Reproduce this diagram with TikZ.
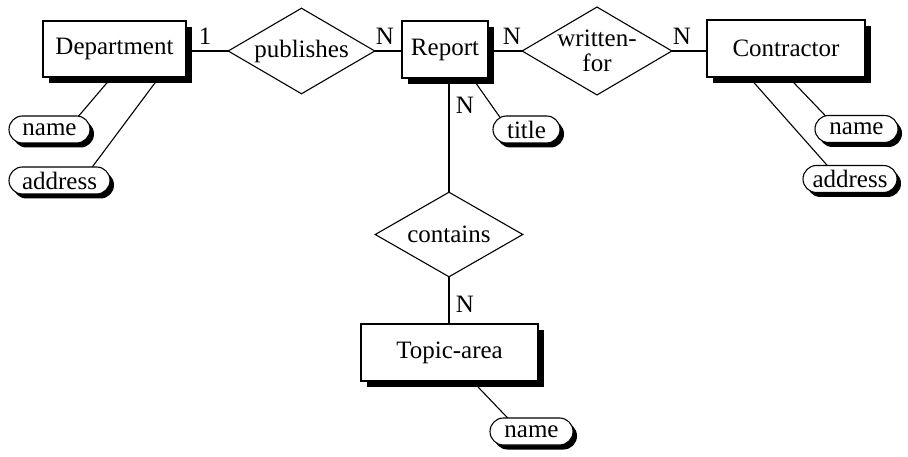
\documentclass[tikz,border=0pt]{standalone}
\usepackage{fontspec}
\setmainfont{Liberation Serif}
\usetikzlibrary{shapes.geometric,shadows,calc}
\pgfdeclarelayer{background}
\pgfsetlayers{background,main}
\begin{document}
\begin{tikzpicture}[x=1pt,y=-1pt,
  every node/.style={font=\fontsize{25}{27}\selectfont},
  entity/.style={draw=black,fill=white,line width=1.1pt,inner sep=0pt,
    drop shadow={shadow xshift=5.5pt,shadow yshift=-6pt,fill=black,opacity=1}},
  attr/.style={draw=black,fill=white,line width=1.1pt,inner sep=0pt,minimum height=27pt,
    rounded corners=13.5pt,
    drop shadow={shadow xshift=4pt,shadow yshift=-4.5pt,fill=black,opacity=1}},
  rel/.style={diamond,draw=black,fill=white,line width=1.1pt,inner sep=0pt,aspect=1.7},
  conn/.style={draw=black,line width=1.1pt},
  card/.style={inner sep=0pt}]
\useasboundingbox (0,0) rectangle (908,457);
% entities
\node[entity,minimum width=143pt,minimum height=56pt] (dept) at (114.5,49) {Department};
\node[entity,minimum width=86pt,minimum height=57pt] (report) at (445,49.5) {Report};
\node[entity,minimum width=158pt,minimum height=57pt] (contr) at (786,48.5) {Contractor};
\node[entity,minimum width=177pt,minimum height=57pt] (topic) at (449.5,352.5) {Topic-area};
% relationships
\node[rel,minimum width=147pt,minimum height=86pt] (pub) at (301.5,51) {publishes};
\node[rel,minimum width=146pt,minimum height=86pt,align=center,font=\fontsize{25}{25}\selectfont] (wf) at (597,51) {written-\\for};
\node[rel,minimum width=148pt,minimum height=85pt] (cont) at (449,234.5) {contains};
% attributes
\node[attr,minimum width=81pt] (dname) at (49.5,129.5) {name};
\node[attr,minimum width=101pt] (daddr) at (59.5,180.5) {address};
\node[attr,minimum width=67pt] (title) at (526.5,129.5) {title};
\node[attr,minimum width=83pt] (cname) at (856.5,129) {name};
\node[attr,minimum width=94pt] (caddr) at (850,179) {address};
\node[attr,minimum width=83pt] (tname) at (531.5,431.5) {name};
% cardinalities
\node[card] (c1) at (205,36) {1};
\node[card] (c2) at (385,36) {N};
\node[card] (c3) at (512,36) {N};
\node[card] (c4) at (682,36) {N};
\node[card] (c5) at (465,105) {N};
\node[card] (c6) at (465,304) {N};
% connectors
\begin{pgfonlayer}{background}
\draw[conn] (dept.center |- pub.center) -- (pub.center) -- (report.center |- pub.center);
\draw[conn] (report.center |- wf.center) -- (wf.center) -- (contr.center |- wf.center);
\draw[conn] (cont.center) -- (cont.center |- report.center);
\draw[conn] (cont.center) -- (topic.center -| cont.center);
\draw[conn] ($(dept.south west)+(69,0)$) -- ($(dname.center)+(17.7,0)$);
\draw[conn] ($(dept.south west)+(116.5,0)$) -- ($(daddr.center)+(22.7,0)$);
\draw[conn] ($(report.south west)+(71.2,0)$) -- ($(title.center)+(-17.9,0)$);
\draw[conn] ($(contr.south west)+(82.4,0)$) -- ($(cname.center)+(-18.4,0)$);
\draw[conn] ($(contr.south west)+(43,0)$) -- ($(caddr.center)+(-10.75,0)$);
\draw[conn] ($(topic.south west)+(112.4,0)$) -- ($(tname.center)+(-10.9,0)$);
\end{pgfonlayer}
\end{tikzpicture}
\end{document}
